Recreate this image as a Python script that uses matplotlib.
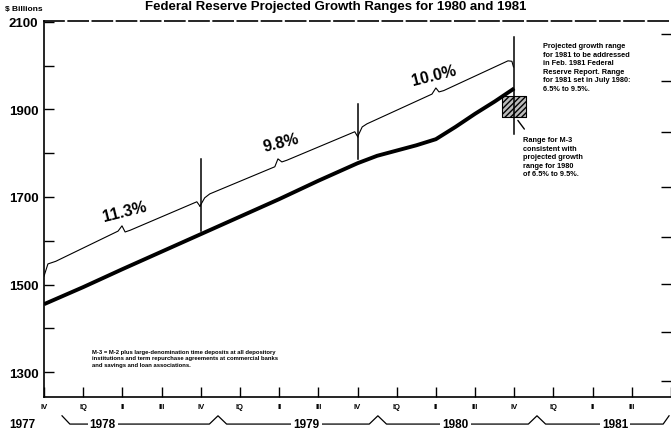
import numpy as np
import matplotlib
matplotlib.use("Agg")
import matplotlib.pyplot as plt
import matplotlib.transforms as mtransforms

plt.rcParams['font.family'] = ['Liberation Sans', 'DejaVu Sans']

# ---------------------------------------------------------------------------
# data (quarter index: 0 = 1977 IV, 4 = 1978 IV, ...), $ billions
# ---------------------------------------------------------------------------
m3_q = [0, 1, 2, 3, 4, 5, 6, 7, 8, 8.5, 9, 9.5, 10, 10.5, 11, 11.5, 12]
m3_v = [1455, 1494, 1535, 1575, 1615, 1655, 1695, 1737, 1777, 1794, 1806,
        1818, 1832, 1860, 1890, 1918, 1948]

# upper growth line, one piece per year (with the little brace bumps)
up78_q = [0.0, 0.1, 0.3, 1.89, 1.99, 2.07, 2.2, 3.90, 3.98]
up78_v = [1519, 1547, 1553, 1622, 1634, 1620, 1624, 1689, 1679]
up79_q = [3.98, 4.1, 4.23, 5.89, 5.97, 6.07, 6.2, 7.93, 8.01]
up79_v = [1679, 1698, 1707, 1769, 1787, 1780, 1784, 1849, 1837]
up80_q = [8.01, 8.12, 8.24, 9.90, 10.0, 10.08, 10.2, 11.84, 11.94, 11.98]
up80_v = [1839, 1860, 1867, 1935, 1949, 1940, 1943, 2011, 2010, 1997]

growth_lbl = ['11.3%', '9.8%', '10.0%']
growth_q = [2.07, 6.05, 9.95]
growth_v = [1668, 1826, 1979]

brace_q = [4, 8, 12]
brace_lo = [1622, 1787, 1844]
brace_hi = [1787, 1913, 2066]

box_q = [11.7, 12.3]
box_v = [1883, 1931]

qtr_lbl = ['IV', 'IQ', 'II', 'III'] * 4 + ['']
years = ['1977', '1978', '1979', '1980', '1981']
year_q = [-0.56, 1.5, 6.7, 10.5, 14.57]
year_peaks = [4.44, 8.52, 12.58]
right_ticks = [2073, 1966, 1849, 1723, 1609, 1501, 1392, 1279]

# ---------------------------------------------------------------------------
fig = plt.figure(figsize=(6.71, 4.35), dpi=100)
ax = fig.add_axes([44/671, 1-398/435, 1-44/671, (398-22)/435])

ax.plot(m3_q, m3_v, color='k', lw=2.8, solid_capstyle='butt')
for qq, vv in [(up78_q, up78_v), (up79_q, up79_v), (up80_q, up80_v)]:
    ax.plot(qq, vv, color='k', lw=0.8)
for q, lo, hi in zip(brace_q, brace_lo, brace_hi):
    ax.plot([q, q], [lo, hi], color='k', lw=1.1)

for t, q, v in zip(growth_lbl, growth_q, growth_v):
    ax.text(q, v, t, ha='center', va='center', rotation=14,
            fontsize=11.5, fontweight='bold')

ax.fill_between(box_q, box_v[0], box_v[1], facecolor='#bbbbbb',
                edgecolor='k', hatch='//////', lw=0.8)

ax.text(12.73, 2054, 'Projected growth range\nfor 1981 to be addressed\n'
        'in Feb. 1981 Federal\nReserve Report. Range\n'
        'for 1981 set in July 1980:\n6.5% to 9.5%.',
        ha='left', va='top', fontsize=5.3, fontweight='bold', linespacing=1.3)
ax.text(12.22, 1839, 'Range for M-3\nconsistent with\nprojected growth\n'
        'range for 1980\nof 6.5% to 9.5%.',
        ha='left', va='top', fontsize=5.3, fontweight='bold', linespacing=1.3)
ax.annotate('', xy=(12.05, 1880), xytext=(12.3, 1850),
            arrowprops=dict(arrowstyle='-', color='k', lw=1))
ax.text(1.22, 1353, 'M-3 = M-2 plus large-denomination time deposits at all depository\n'
        'institutions and term repurchase agreements at commercial banks\n'
        'and savings and loan associations.',
        ha='left', va='top', fontsize=4.2, fontweight='bold', linespacing=1.4)

# axes styling
ax.set_xlim(0, 16)
ax.set_ylim(1243, 2102)
ax.spines['right'].set_visible(False)
ax.spines['top'].set_linestyle((0, (12, 2.5)))
ax.spines['top'].set_linewidth(1.2)
for s in ['left', 'bottom']:
    ax.spines[s].set_linewidth(1.2)

ax.set_yticks([1300, 1500, 1700, 1900, 2100])
ax.set_yticks([1400, 1600, 1800, 2000], minor=True)
ax.set_yticklabels(['1300', '1500', '1700', '1900', '2100'],
                   fontsize=9.5, fontweight='bold')
ax.tick_params(axis='y', which='both', direction='in', length=7, width=1, pad=4)

ax.set_xticks(range(0, 17))
ax.set_xticklabels(qtr_lbl, fontsize=5.5, fontweight='bold')
ax.tick_params(axis='x', direction='in', length=7, width=1, pad=4)

sec = ax.secondary_yaxis('right')
sec.set_yticks(right_ticks)
sec.set_yticklabels([])
sec.tick_params(direction='in', length=7, width=1)
sec.spines['right'].set_visible(False)

# year brackets under the quarter labels
tr = mtransforms.blended_transform_factory(ax.transData, ax.transAxes)
yb, yp = -0.072, -0.05
bx = [0.46, 0.66]
by = [yp, yb]
for p in year_peaks:
    bx += [p - 0.22, p, p + 0.22]
    by += [yb, yp, yb]
bx += [15.8, 15.95]
by += [yb, yp]
ax.plot(bx, by, color='k', lw=0.9, transform=tr, clip_on=False)
for y, q in zip(years, year_q):
    ax.text(q, yb, y, transform=tr, ha='center', va='center', fontsize=8.5,
            fontweight='bold', clip_on=False,
            bbox=dict(facecolor='white', edgecolor='none', pad=1.5))

fig.text(5/671, 1-10/435, '$ Billions', ha='left', va='center',
         fontsize=6, fontweight='bold')
fig.text(0.5, 1-10/435, 'Federal Reserve Projected Growth Ranges for 1980 and 1981',
         ha='center', va='baseline', fontsize=9.5, fontweight='bold')

fig.savefig('out.png', dpi=100)
